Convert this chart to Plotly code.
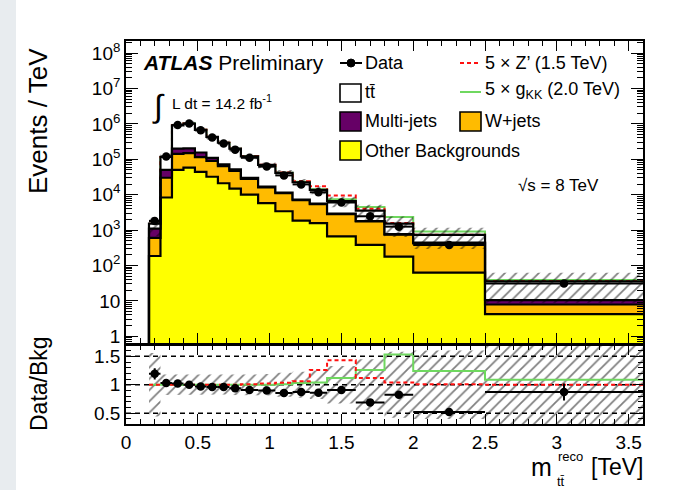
import numpy as np
import plotly.graph_objects as go

# ---------------------------------------------------------------------------
# Reconstructed m_tt spectrum, resolved selection, 8 TeV, 14.2 fb^-1
# ---------------------------------------------------------------------------
bin_edges = [0.16, 0.24, 0.32, 0.40, 0.48, 0.56, 0.64, 0.72, 0.80, 0.92,
             1.04, 1.16, 1.28, 1.40, 1.60, 1.80, 2.00, 2.50, 3.60]

# observed events / TeV
data = [1800, 1.20e5, 9.3e5, 1.02e6, 6.6e5, 4.1e5, 2.8e5, 1.87e5, 1.10e5,
        6.2e4, 3.5e4, 1.95e4, 1.17e4, 6.0e3, 2.45e3, 1.25e3, 380, 31]

# expected backgrounds, events / TeV (stacked bottom to top)
other_bkg = [185, 8300, 50000, 58000, 44000, 32000, 21000, 14800, 10000,
             5800, 3400, 1850, 1580, 660, 380, 178, 63, 4.2]
wjets = [415, 21700, 91000, 90000, 71000, 58000, 43000, 32200, 18000,
         10200, 7600, 5150, 3820, 2140, 1370, 562, 357, 3.7]
multijet = [500, 20000, 59000, 56000, 40000, 20000, 8000, 5000, 2000,
            1000, 500, 300, 200, 100, 50, 30, 20, 2.6]
ttbar = [410, 66500, 710000, 816000, 525000, 317000, 220000, 147000, 91000,
         52000, 29500, 15100, 8000, 3700, 1750, 750, 290, 25.1]

# signal hypotheses scaled by 5, events / TeV
zprime_x5 = [0, 0, 0, 0, 0, 0, 0, 0, 1210,
             1380, 1435, 1344, 3536, 2838, 426, 61, 7.3, 0]
gkk_x5 = [0, 0, 0, 0, 0, 0, 0, 0, 0,
          0, 410, 672, 544, 792, 923, 806, 175, 3.2]

# relative systematic uncertainty on the total background
syst_rel = [0.56, 0.18, 0.17, 0.17, 0.17, 0.17, 0.17, 0.18, 0.18,
            0.19, 0.21, 0.23, 0.25, 0.33, 0.45, 0.58, 0.60, 0.75]

# ---------------------------------------------------------------------------
edges = np.array(bin_edges)
widths = np.diff(edges)
centers = 0.5 * (edges[:-1] + edges[1:])
half_w = 0.5 * widths
n = len(widths)

d = np.array(data, float)
lvl_other = np.array(other_bkg, float)
lvl_w = lvl_other + np.array(wjets)
lvl_mj = lvl_w + np.array(multijet)
total = lvl_mj + np.array(ttbar)
d_err = np.sqrt(d * widths) / widths
rel = np.array(syst_rel)

FONT = "Liberation Sans, Arial, Helvetica, sans-serif"
W, H = 696, 490
ML, MR, MT, MB = 126, 53, 41, 66
PW, PH = W - ML - MR, H - MT - MB

RED = "#ff1010"
GREEN = "#6fd85f"
ZDASH = "4px,3px"


def px(x):
    return (x - ML) / PW


def py(y):
    return (H - MB - y) / PH


BASE = 1e-3


def closed_step(vals):
    xs = [edges[0]] + list(edges[:-1]) + [edges[-1]]
    ys = [BASE] + list(vals) + [vals[-1]]
    return xs, ys


def open_step(vals):
    return list(edges), list(vals) + [vals[-1]]


def band(lo, hi):
    xs, ys = [], []
    for i in range(n):
        xs += [edges[i], edges[i + 1]]
        ys += [hi[i], hi[i]]
    for i in reversed(range(n)):
        xs += [edges[i + 1], edges[i]]
        ys += [lo[i], lo[i]]
    xs.append(xs[0])
    ys.append(ys[0])
    return xs, ys


HATCH = dict(shape="/", fgcolor="#000000", bgcolor="rgba(0,0,0,0)", size=8, solidity=0.22)

fig = go.Figure()
LW = 2.2

# ---------------- main panel ----------------
# signal curves sit underneath the stack outline
for sig, col, dash in [(gkk_x5, GREEN, "solid"), (zprime_x5, RED, ZDASH)]:
    xs, ys = open_step(total + np.array(sig))
    fig.add_trace(go.Scatter(x=xs, y=ys, mode="lines", line=dict(color=col, width=2, dash=dash, shape="hv"),
                             xaxis="x", yaxis="y", showlegend=False, hoverinfo="skip"))

xs, ys = closed_step(np.full(n, BASE))
fig.add_trace(go.Scatter(x=xs, y=ys, mode="lines", line=dict(width=0, shape="hv"),
                         xaxis="x", yaxis="y", showlegend=False, hoverinfo="skip"))
for lvl, col in [(lvl_other, "#ffff00"), (lvl_w, "#ffbb00"), (lvl_mj, "#660066"), (total, "#ffffff")]:
    xs, ys = closed_step(lvl)
    fig.add_trace(go.Scatter(x=xs, y=ys, mode="lines", fill="tonexty", fillcolor=col,
                             line=dict(color="black", width=LW, shape="hv"),
                             xaxis="x", yaxis="y", showlegend=False, hoverinfo="skip"))

bx, by = band(total * (1 - rel), total * (1 + rel))
fig.add_trace(go.Scatter(x=bx, y=by, mode="lines", fill="toself", fillcolor="rgba(0,0,0,0)",
                         fillpattern=HATCH, line=dict(width=0),
                         xaxis="x", yaxis="y", showlegend=False, hoverinfo="skip"))

fig.add_trace(go.Scatter(x=centers, y=d, mode="markers",
                         marker=dict(color="black", size=8.5),
                         error_y=dict(type="data", array=d_err, color="black", thickness=2, width=0),
                         error_x=dict(type="data", array=half_w, color="black", thickness=2, width=0),
                         xaxis="x", yaxis="y", showlegend=False))

# ---------------- ratio panel ----------------
ratio = d / total
ratio_err = d_err / total
bx, by = band(1 - rel, 1 + rel)
fig.add_trace(go.Scatter(x=bx, y=by, mode="lines", fill="toself", fillcolor="rgba(0,0,0,0)",
                         fillpattern=HATCH, line=dict(width=0),
                         xaxis="x2", yaxis="y2", showlegend=False, hoverinfo="skip"))
for sig, col, dash in [(gkk_x5, GREEN, "solid"), (zprime_x5, RED, ZDASH)]:
    xs, ys = open_step((total + np.array(sig)) / total)
    fig.add_trace(go.Scatter(x=xs, y=ys, mode="lines", line=dict(color=col, width=2, dash=dash, shape="hv"),
                             xaxis="x2", yaxis="y2", showlegend=False, hoverinfo="skip"))
fig.add_trace(go.Scatter(x=centers, y=ratio, mode="markers",
                         marker=dict(color="black", size=8.5),
                         error_y=dict(type="data", array=ratio_err, color="black", thickness=2, width=0),
                         error_x=dict(type="data", array=half_w, color="black", thickness=2, width=0),
                         xaxis="x2", yaxis="y2", showlegend=False))

shapes = []
for lvl in [0.5, 1.0, 1.5]:
    shapes.append(dict(type="line", xref="x2 domain", yref="y2", x0=0, x1=1, y0=lvl, y1=lvl,
                       line=dict(color="black", width=1.6, dash="5px,4px"), layer="below"))

# side strip of the page
shapes.append(dict(type="rect", xref="paper", yref="paper", x0=px(0), x1=px(16), y0=py(H), y1=py(0),
                   fillcolor="#e8ecef", line=dict(width=0), layer="below"))


# ---------------- legend ----------------
def box(x0, y0, x1, y1, col):
    shapes.append(dict(type="rect", xref="paper", yref="paper", x0=px(x0), x1=px(x1), y0=py(y1), y1=py(y0),
                       fillcolor=col, line=dict(color="black", width=1.6)))


def hline(x0, x1, y, col, dash="solid", w=2):
    shapes.append(dict(type="line", xref="paper", yref="paper", x0=px(x0), x1=px(x1), y0=py(y), y1=py(y),
                       line=dict(color=col, width=w, dash=dash)))


hline(340, 362, 63, "black")
shapes.append(dict(type="circle", xref="paper", yref="paper", x0=px(347), x1=px(355), y0=py(67), y1=py(59),
                   fillcolor="black", line=dict(color="black", width=1)))
box(340, 84, 361, 102, "#ffffff")
box(340, 112, 361, 131, "#660066")
box(340, 141, 361, 160, "#ffff00")
box(460, 112, 481, 131, "#ffbb00")
hline(460, 481, 63, RED, ZDASH)
hline(460, 481, 92, GREEN)

annotations = []


def text(s, x, y, size, xanchor="left", yanchor="middle", angle=0):
    annotations.append(dict(text=s, xref="paper", yref="paper", x=px(x), y=py(y), xanchor=xanchor,
                            yanchor=yanchor, showarrow=False, textangle=angle,
                            font=dict(family=FONT, size=size, color="black")))


text("Data", 363, 63, 18)
text("tt\u0304", 363, 92, 18)
text("Multi-jets", 363, 121, 18)
text("Other Backgrounds", 363, 151, 18)
text("W+jets", 483, 121, 18)
text("5 \u00d7 Z\u2019 (1.5 TeV)", 483, 63, 18)
text("5 \u00d7 g<sub>KK</sub> (2.0 TeV)", 483, 90, 18)

text("<b><i>ATLAS</i></b> Preliminary", 141, 62, 21)
text("\u222b", 158, 106, 32, xanchor="center")
text("L dt = 14.2 fb<sup>-1</sup>", 170, 102, 15.5)
text("\u221as = 8 TeV", 516, 185, 17)

text("Events / TeV", 38, 121, 26, xanchor="center", angle=-90)
text("Data/Bkg", 39, 384, 23, xanchor="center", angle=-90)
text("m", 541, 467, 25, xanchor="center")
text("reco", 556, 456, 13)
text("tt\u0304", 555, 481, 13)
text("[TeV]", 589, 467, 23)

# ---------------- axes ----------------
main_dom = [py(343), 1.0]
ratio_dom = [0.0, py(345.5)]

axis_common = dict(showline=True, linecolor="black", linewidth=1.6, mirror="allticks",
                   ticks="inside", tickcolor="black", showgrid=False, zeroline=False,
                   tickfont=dict(family=FONT, size=19, color="black"))

minor_log = [k * 10 ** e for e in range(-1, 9) for k in range(2, 10)]

fig.update_layout(
    width=W, height=H,
    margin=dict(l=ML, r=MR, t=MT, b=MB),
    paper_bgcolor="white", plot_bgcolor="white",
    font=dict(family=FONT, color="black"),
    showlegend=False,
    xaxis=dict(domain=[0, 1], anchor="y", range=[0, 3.6], showticklabels=False,
               tick0=0, dtick=0.5, ticklen=10, tickwidth=1.2,
               minor=dict(ticks="inside", dtick=0.1, ticklen=5, tickcolor="black", tickwidth=1.2),
               **axis_common),
    yaxis=dict(domain=main_dom, anchor="x", type="log", range=[-0.19, 8.34],
               tickmode="array",
               tickvals=[1, 10, 1e2, 1e3, 1e4, 1e5, 1e6, 1e7, 1e8],
               ticktext=["1", "10", "10<sup>2</sup>", "10<sup>3</sup>", "10<sup>4</sup>",
                         "10<sup>5</sup>", "10<sup>6</sup>", "10<sup>7</sup>", "10<sup>8</sup>"],
               ticklen=12, tickwidth=1.2,
               minor=dict(ticks="inside", tickmode="array", tickvals=minor_log, ticklen=6,
                          tickcolor="black", tickwidth=1),
               **axis_common),
    xaxis2=dict(domain=[0, 1], anchor="y2", range=[0, 3.6], matches="x",
                tick0=0, dtick=0.5, ticklen=10, tickwidth=1.2,
                minor=dict(ticks="inside", dtick=0.1, ticklen=5, tickcolor="black", tickwidth=1.2),
                **axis_common),
    yaxis2=dict(domain=ratio_dom, anchor="x2", range=[0.31, 1.69],
                tickmode="array", tickvals=[0.5, 1, 1.5], ticktext=["0.5", "1", "1.5"],
                ticklen=10, tickwidth=1.2,
                minor=dict(ticks="inside", dtick=0.1, ticklen=5, tickcolor="black", tickwidth=1),
                **axis_common),
    shapes=shapes,
    annotations=annotations,
)

fig.write_html("out.html")
